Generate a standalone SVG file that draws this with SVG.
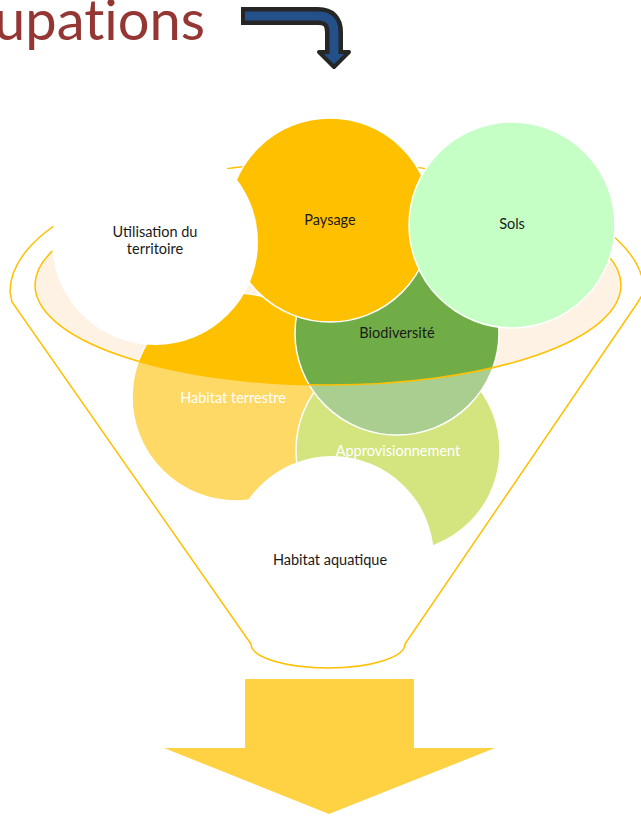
<svg xmlns="http://www.w3.org/2000/svg" width="641" height="816" viewBox="0 0 641 816">
<style>
.lbl{font-family:Lato,"Open Sans","Liberation Sans",sans-serif;font-size:14.5px;text-anchor:middle}
.dk{fill:#1a1a1a}
.wt{fill:#ffffff}
.circ{stroke:#ffffff;stroke-width:1.5}
.ol{fill:none;stroke:#FFC000;stroke-width:1.5}
</style>
<rect width="641" height="816" fill="#ffffff"/>
<g id="title">
<text x="-6" y="40" font-family="Lato,'Open Sans','Liberation Sans',sans-serif" font-size="56" fill="#943634" style="font-variant-ligatures:none" textLength="211" lengthAdjust="spacing">upations</text>
</g>
<g id="bent-arrow">
<path d="M 241 16 H 318 Q 334 16 334 32 V 50" fill="none" stroke="#262626" stroke-width="18" stroke-linejoin="round"/>
<polygon points="319,52 349,52 334,67" fill="#24508A" stroke="#262626" stroke-width="4" stroke-linejoin="round"/>
<path d="M 245 16 H 318 Q 334 16 334 32 V 54" fill="none" stroke="#24508A" stroke-width="9"/>
</g>
<g id="funnel-base">
<path d="M 12 302 L 10 292 A 317 130 0 0 1 644 292 L 638 302 L 405 644 A 77 24 0 0 1 251 644 Z" fill="#ffffff"/>
<ellipse cx="328" cy="285" rx="293" ry="100" fill="#FEF2E4"/>
</g>
<g id="habitat-terrestre">
<circle class="circ" cx="236" cy="397" r="104" fill="#FFC000"/>
</g>
<g id="approvisionnement">
<circle class="circ" cx="398" cy="450" r="102" fill="#B8D42B"/>
</g>
<g id="biodiversite">
<circle class="circ" cx="397" cy="333" r="102" fill="#70AD47"/>
</g>
<g id="habitat-aquatique">
<circle cx="332" cy="558" r="102" fill="#ffffff"/>
</g>
<g id="funnel-overlay">
<path fill-rule="evenodd" fill="#ffffff" fill-opacity="0.4" d="M 12 302 L 10 292 A 317 130 0 0 1 644 292 L 638 302 L 405 644 A 77 24 0 0 1 251 644 Z M 35 285 A 293 100 0 1 0 621 285 A 293 100 0 1 0 35 285 Z"/>
<path class="ol" d="M 12 302 L 10 292 A 317 130 0 0 1 644 292 L 638 302 L 405 644 A 77 24 0 0 1 251 644 Z"/>
<ellipse class="ol" cx="328" cy="285" rx="293" ry="100"/>
</g>
<g id="paysage">
<circle class="circ" cx="330" cy="220" r="102" fill="#FFC000"/>
</g>
<g id="utilisation">
<circle cx="155" cy="242" r="103" fill="#ffffff"/>
</g>
<g id="sols">
<circle class="circ" cx="512" cy="225" r="103" fill="#C6FFC6"/>
</g>
<g id="labels">
<text class="lbl dk" x="155" y="237">Utilisation du</text>
<text class="lbl dk" x="155" y="254">territoire</text>
<text class="lbl dk" x="330" y="225">Paysage</text>
<text class="lbl dk" x="512" y="229">Sols</text>
<text class="lbl dk" x="397" y="338">Biodiversité</text>
<text class="lbl wt" x="233" y="403">Habitat terrestre</text>
<text class="lbl wt" x="398" y="456">Approvisionnement</text>
<text class="lbl dk" x="330" y="565">Habitat aquatique</text>
</g>
<g id="down-arrow">
<polygon points="245,679 414,679 414,748 495,748 329,814 164,748 245,748" fill="#FFD243"/>
</g>
</svg>
